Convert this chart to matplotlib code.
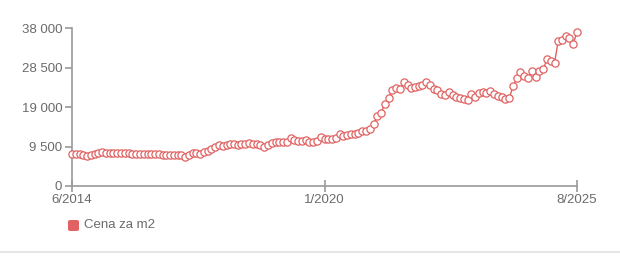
import matplotlib
matplotlib.use('Agg')
import matplotlib.pyplot as plt
import matplotlib.dates as mdates
from matplotlib.patches import FancyBboxPatch
import pandas as pd

# monthly price per m2, 6/2014 .. 8/2025
prices = [
    7630, 7630, 7630, 7470, 7230, 7390, 7710, 7950, 8110, 8030,
    8030, 7950, 7950, 7870, 7950, 7870, 7710, 7630, 7630, 7630,
    7710, 7630, 7630, 7630, 7550, 7550, 7550, 7550, 7470, 7390,
    6990, 7550, 8030, 7870, 7710, 8110, 8520, 8920, 9320, 9880,
    9720, 9960, 10040, 10120, 9880, 10040, 10120, 10290, 10120, 10120,
    9960, 9480, 9960, 10440, 10680, 10680, 10600, 10600, 11650, 11090,
    10850, 10850, 11090, 10680, 10600, 10850, 11890, 11330, 11250, 11250,
    11490, 12460, 12050, 12300, 12460, 12460, 12850, 13260, 13340, 13660,
    15000, 16870, 17700, 19690, 21280, 23140, 23550, 23300, 24990, 24270,
    23550, 23790, 24100, 24410, 24990, 24270, 23380, 23060, 22100, 22020,
    22580, 21930, 21520, 21280, 20890, 20650, 22100, 21520, 22340, 22700,
    22550, 22900, 22170, 21760, 21380, 20890, 21130, 24030, 25960, 27400,
    26580, 25960, 27720, 26200, 27720, 28120, 30530, 30200, 29720, 34870,
    35190, 36150, 35600, 34300, 37110,
]
months = pd.date_range('2014-06-01', periods=len(prices), freq='MS')
y_ticks = [0, 9500, 19000, 28500, 38000]
x_ticks = ['2014-06-01', '2020-01-01', '2025-08-01']
x_labels = ['6/2014', '1/2020', '8/2025']
series_name = 'Cena za m2'

RED = '#e06262'
AXIS = '#9a9a9a'
TEXT = '#6b6b6b'

plt.rcParams['font.family'] = ['Liberation Sans', 'DejaVu Sans']

fig = plt.figure(figsize=(6.2, 2.56), dpi=100)
ax = fig.add_axes([72 / 620, 1 - 186 / 256, (577 - 72) / 620, (186 - 28.5) / 256])

ax.plot(months, prices, color=RED, lw=1, marker='o', ms=5.2,
        mfc='white', mec=RED, mew=0.9, clip_on=False, zorder=3)

ax.set_ylim(0, 38000)
ax.set_xlim(months[0], months[-1])
ax.set_yticks(y_ticks)
ax.set_yticklabels(['{:,}'.format(v).replace(',', ' ') for v in y_ticks])
ax.set_xticks([pd.Timestamp(d) for d in x_ticks])
ax.set_xticklabels(x_labels)

for s in ['top', 'right']:
    ax.spines[s].set_visible(False)
for s in ['left', 'bottom']:
    ax.spines[s].set_color(AXIS)
    ax.spines[s].set_linewidth(1.2)
ax.tick_params(axis='y', colors=AXIS, labelcolor=TEXT, labelsize=9.5,
               length=5, width=1.2, pad=2)
ax.tick_params(axis='x', colors=AXIS, labelcolor=TEXT, labelsize=9.5,
               direction='inout', length=8, width=1.2, pad=1.5)

# legend
fig.patches.append(FancyBboxPatch((68 / 620, 1 - 231 / 256), 11 / 620, 11 / 256,
                                  boxstyle='round,pad=0,rounding_size=0.005',
                                  transform=fig.transFigure, fc=RED, ec='none'))
fig.text(84 / 620, 1 - 225.5 / 256, series_name, color=TEXT, fontsize=9.5, va='center')

# bottom separator
fig.add_artist(plt.Line2D([0, 1], [1 - 252 / 256] * 2, transform=fig.transFigure,
                          color='#e6e6e6', lw=1.5))

fig.savefig('out.png', dpi=100)
